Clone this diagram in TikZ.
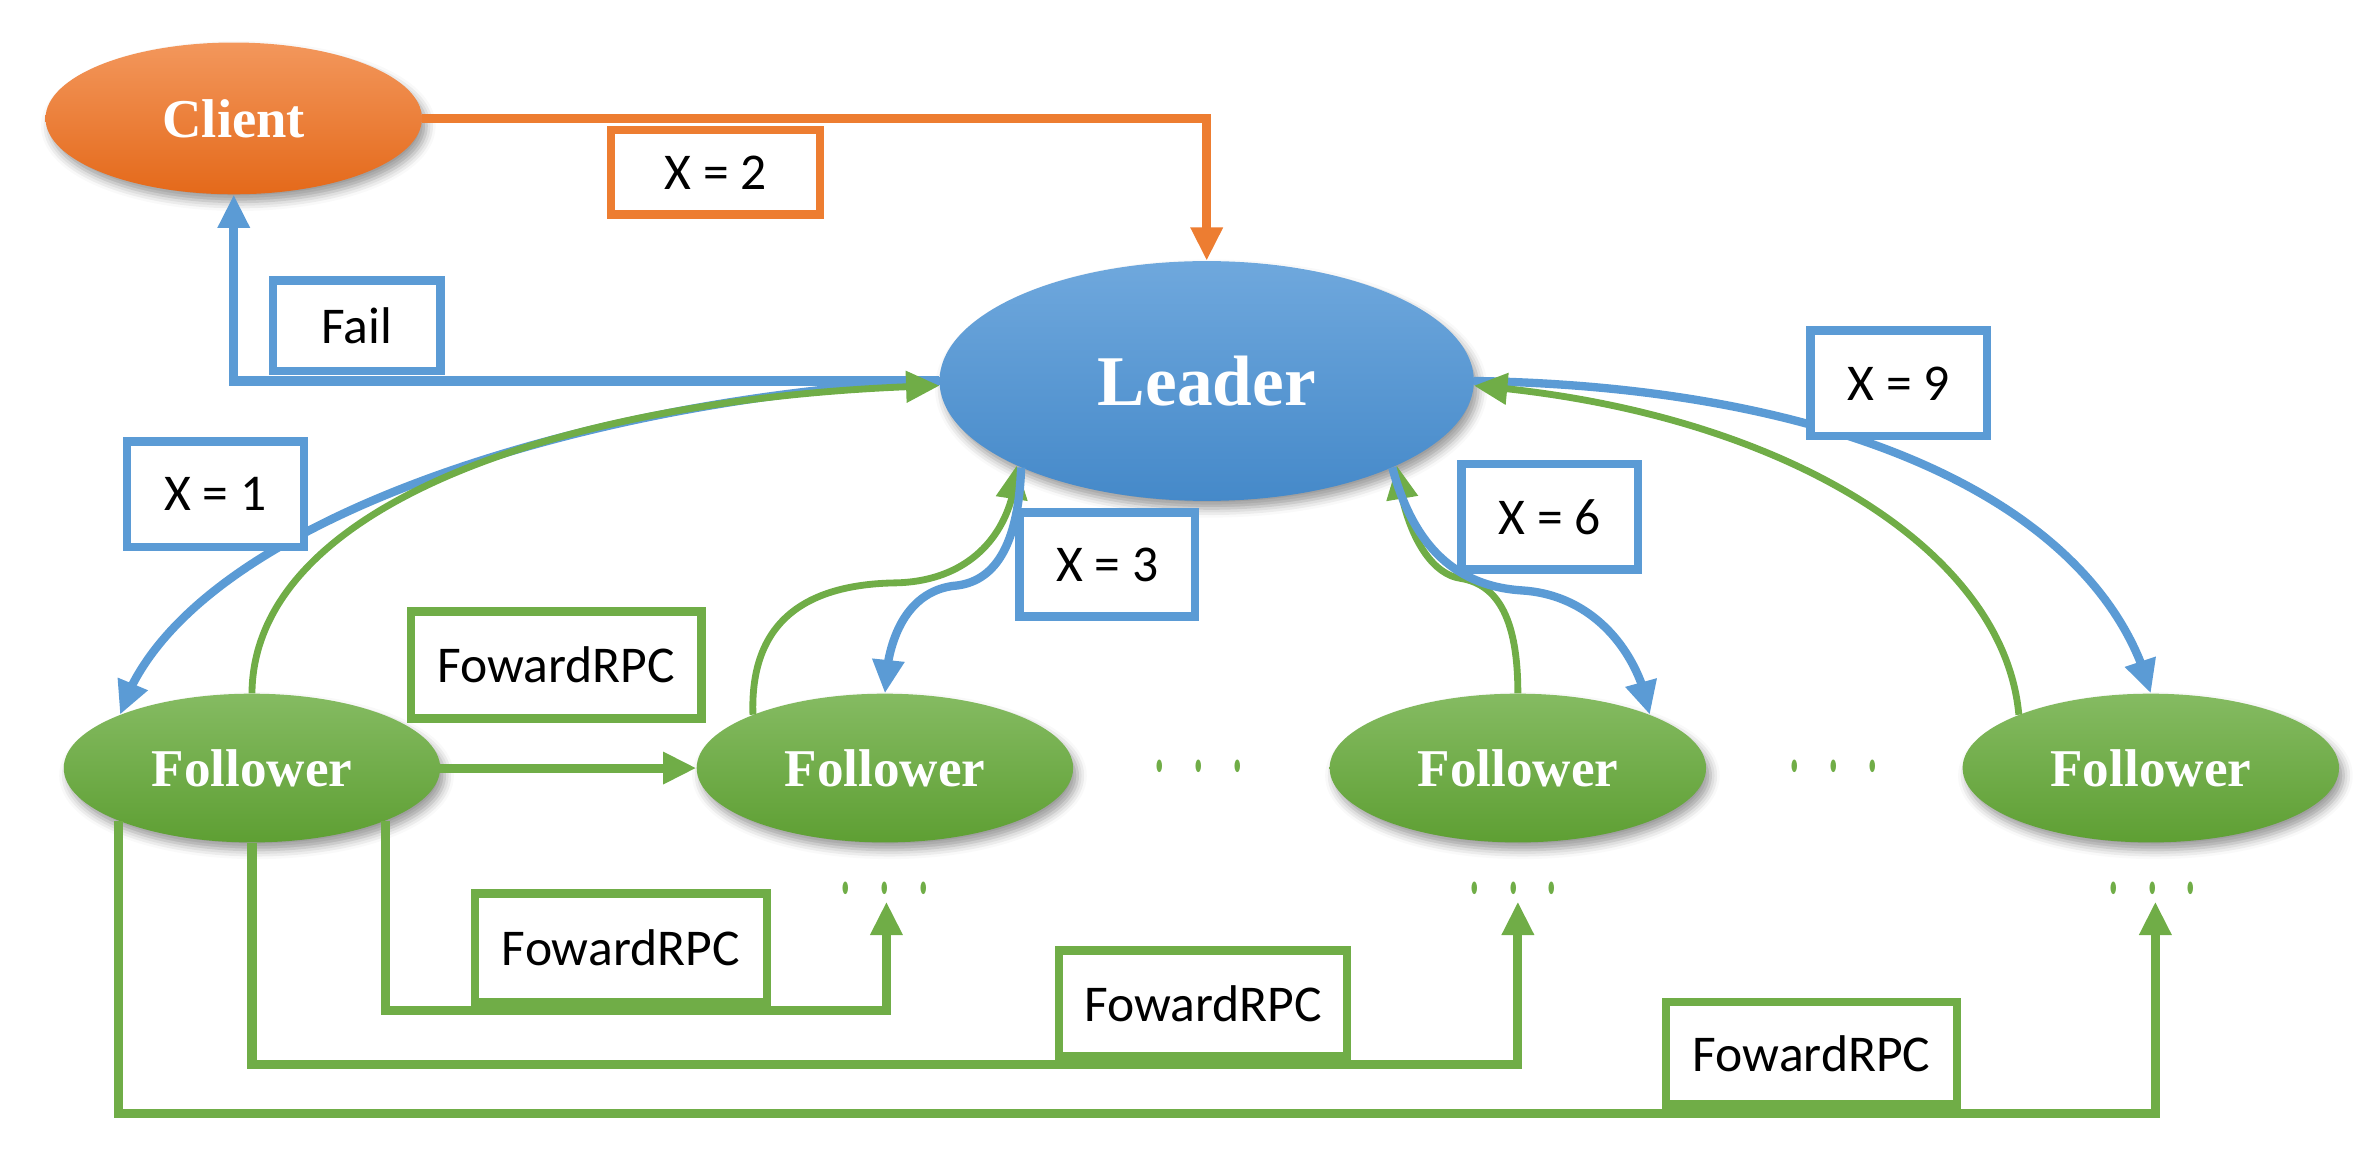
\documentclass[tikz,border=0pt]{standalone}
\usepackage{fontspec}
\setmainfont{Liberation Serif}
\newfontfamily\labfont{Carlito}
\usetikzlibrary{shapes.geometric,arrows.meta,shadows.blur,bending}
\definecolor{cOrange}{HTML}{ED7D31}
\definecolor{cBlue}{HTML}{5B9BD5}
\definecolor{cGreen}{HTML}{70AD47}
\definecolor{oTop}{HTML}{F3975C}
\definecolor{oBot}{HTML}{E4691A}
\definecolor{bTop}{HTML}{6FA8DD}
\definecolor{bBot}{HTML}{4589C9}
\definecolor{gTop}{HTML}{85BB62}
\definecolor{gBot}{HTML}{5E9F33}
\newcommand{\tdot}{\scalebox{0.75}[1.7]{.}}
\newcommand{\threedots}{\tdot\hspace{20pt}\tdot\hspace{20pt}\tdot}
\begin{document}
\begin{tikzpicture}[x=1pt,y=-1pt,
  blob/.style={ellipse, inner sep=0pt, text=white,
    blur shadow={shadow xshift=3pt, shadow yshift=-5pt, shadow opacity=40, shadow blur radius=6pt}},
  clientnode/.style={blob, top color=oTop, bottom color=oBot, minimum width=248pt, minimum height=100pt,
    font=\bfseries\fontsize{36}{40}\selectfont},
  leadernode/.style={blob, top color=bTop, bottom color=bBot, minimum width=352pt, minimum height=158pt,
    font=\bfseries\fontsize{47}{50}\selectfont},
  follnode/.style={blob, top color=gTop, bottom color=gBot, minimum width=248pt, minimum height=98pt,
    font=\bfseries\fontsize{35}{40}\selectfont},
  tip/.style={-{Triangle[length=22pt,width=20pt]}},
  oline/.style={draw=cOrange, line width=6pt, tip},
  bline/.style={draw=cBlue, line width=6pt, tip},
  gline/.style={draw=cGreen, line width=6pt, tip},
  bcurve/.style={draw=cBlue, line width=5.5pt, tip},
  gcurve/.style={draw=cGreen, line width=4.5pt, tip},
  lbox/.style={draw, fill=white, line width=5.5pt, inner sep=0pt, text=black,
    font=\labfont\fontsize{34}{40}\selectfont},
  dotsnode/.style={text=cGreen, inner sep=0pt, font=\bfseries\fontsize{30}{34}\selectfont}
  ]
\useasboundingbox (0,0) rectangle (1568,769.5);

% main nodes
\node[clientnode] (client) at (154,78) {Client};
\node[leadernode] (leader) at (795,251) {Leader};
\node[follnode] (f1) at (166,506) {Follower};
\node[follnode] (f2) at (583,506) {Follower};
\node[follnode] (f3) at (1000,506) {Follower};
\node[follnode] (f4) at (1417,506) {Follower};

% dots
\node[dotsnode] (dm1) at (790,505) {\threedots};
\node[dotsnode] (dm2) at (1208,505) {\threedots};
\node[dotsnode] (db1) at (583,585) {\threedots};
\node[dotsnode] (db2) at (997,585) {\threedots};
\node[dotsnode] (db3) at (1418,585) {\threedots};
\coordinate (tA) at (584,594);
\coordinate (tB) at (1000,594);
\coordinate (tC) at (1420,594);

% client <-> leader
\draw[oline] (client.east) -| (leader.north);
\draw[bline] (leader.west) -| (client.south);

% leader <-> follower 1
\draw[bcurve] (leader.west) .. controls (400,260) and (120,340) .. (f1.158);
\draw[gcurve] (f1.north) .. controls (167,330) and (380,260) .. (leader.181);

% leader <-> follower 2
\draw[gcurve] (f2.158) .. controls (494,410) and (530,385) .. (590,384)
   .. controls (640,383) and (668,350) .. (leader.204);
\draw[bcurve] (leader.205) .. controls (671,360) and (655,384) .. (628,386)
   .. controls (598,390) and (584,420) .. (f2.north);

% leader <-> follower 3
\draw[gcurve] (f3.north) .. controls (1000,410) and (988,385) .. (962,381)
   .. controls (942,378) and (925,350) .. (leader.336);
\draw[bcurve] (leader.335) .. controls (930,355) and (955,386) .. (1003,389)
   .. controls (1050,392) and (1080,430) .. (f3.22);

% leader <-> follower 4
\draw[bcurve] (leader.east) .. controls (1220,255) and (1385,335) .. (f4.north);
\draw[gcurve] (f4.158) .. controls (1320,360) and (1170,270) .. (leader.359);

% forward RPCs
\draw[gline] (f1.east) -- (f2.west);
\draw[gline] (f1.south east) -- ++(0,125) -| (tA);
\draw[gline] (f1.south) -- ++(0,146) -| (tB);
\draw[gline] (f1.south west) -- ++(0,193) -| (tC);

% labels
\node[lbox, draw=cOrange, minimum width=137.5pt, minimum height=55.5pt] (lx2) at (471.5,113.5) {X = 2};
\node[lbox, draw=cBlue, minimum width=110.5pt, minimum height=59.5pt] (lfail) at (235,214.5) {Fail};
\node[lbox, draw=cBlue, minimum width=116.5pt, minimum height=69.5pt] (lx1) at (142,325.5) {X = 1};
\node[lbox, draw=cBlue, minimum width=115.5pt, minimum height=68.5pt] (lx3) at (729.5,372) {X = 3};
\node[lbox, draw=cBlue, minimum width=116.5pt, minimum height=69.5pt] (lx6) at (1021,340.5) {X = 6};
\node[lbox, draw=cBlue, minimum width=116.5pt, minimum height=69.5pt] (lx9) at (1251,252.5) {X = 9};
\node[lbox, draw=cGreen, minimum width=191.5pt, minimum height=70.5pt] (lrpc0) at (366.5,438) {FowardRPC};
\node[lbox, draw=cGreen, minimum width=192.5pt, minimum height=71.5pt] (lrpcA) at (409,624.5) {FowardRPC};
\node[lbox, draw=cGreen, minimum width=189.5pt, minimum height=69.5pt] (lrpcB) at (792.5,661) {FowardRPC};
\node[lbox, draw=cGreen, minimum width=191.5pt, minimum height=67.5pt] (lrpcC) at (1193.5,694) {FowardRPC};
\end{tikzpicture}
\end{document}
